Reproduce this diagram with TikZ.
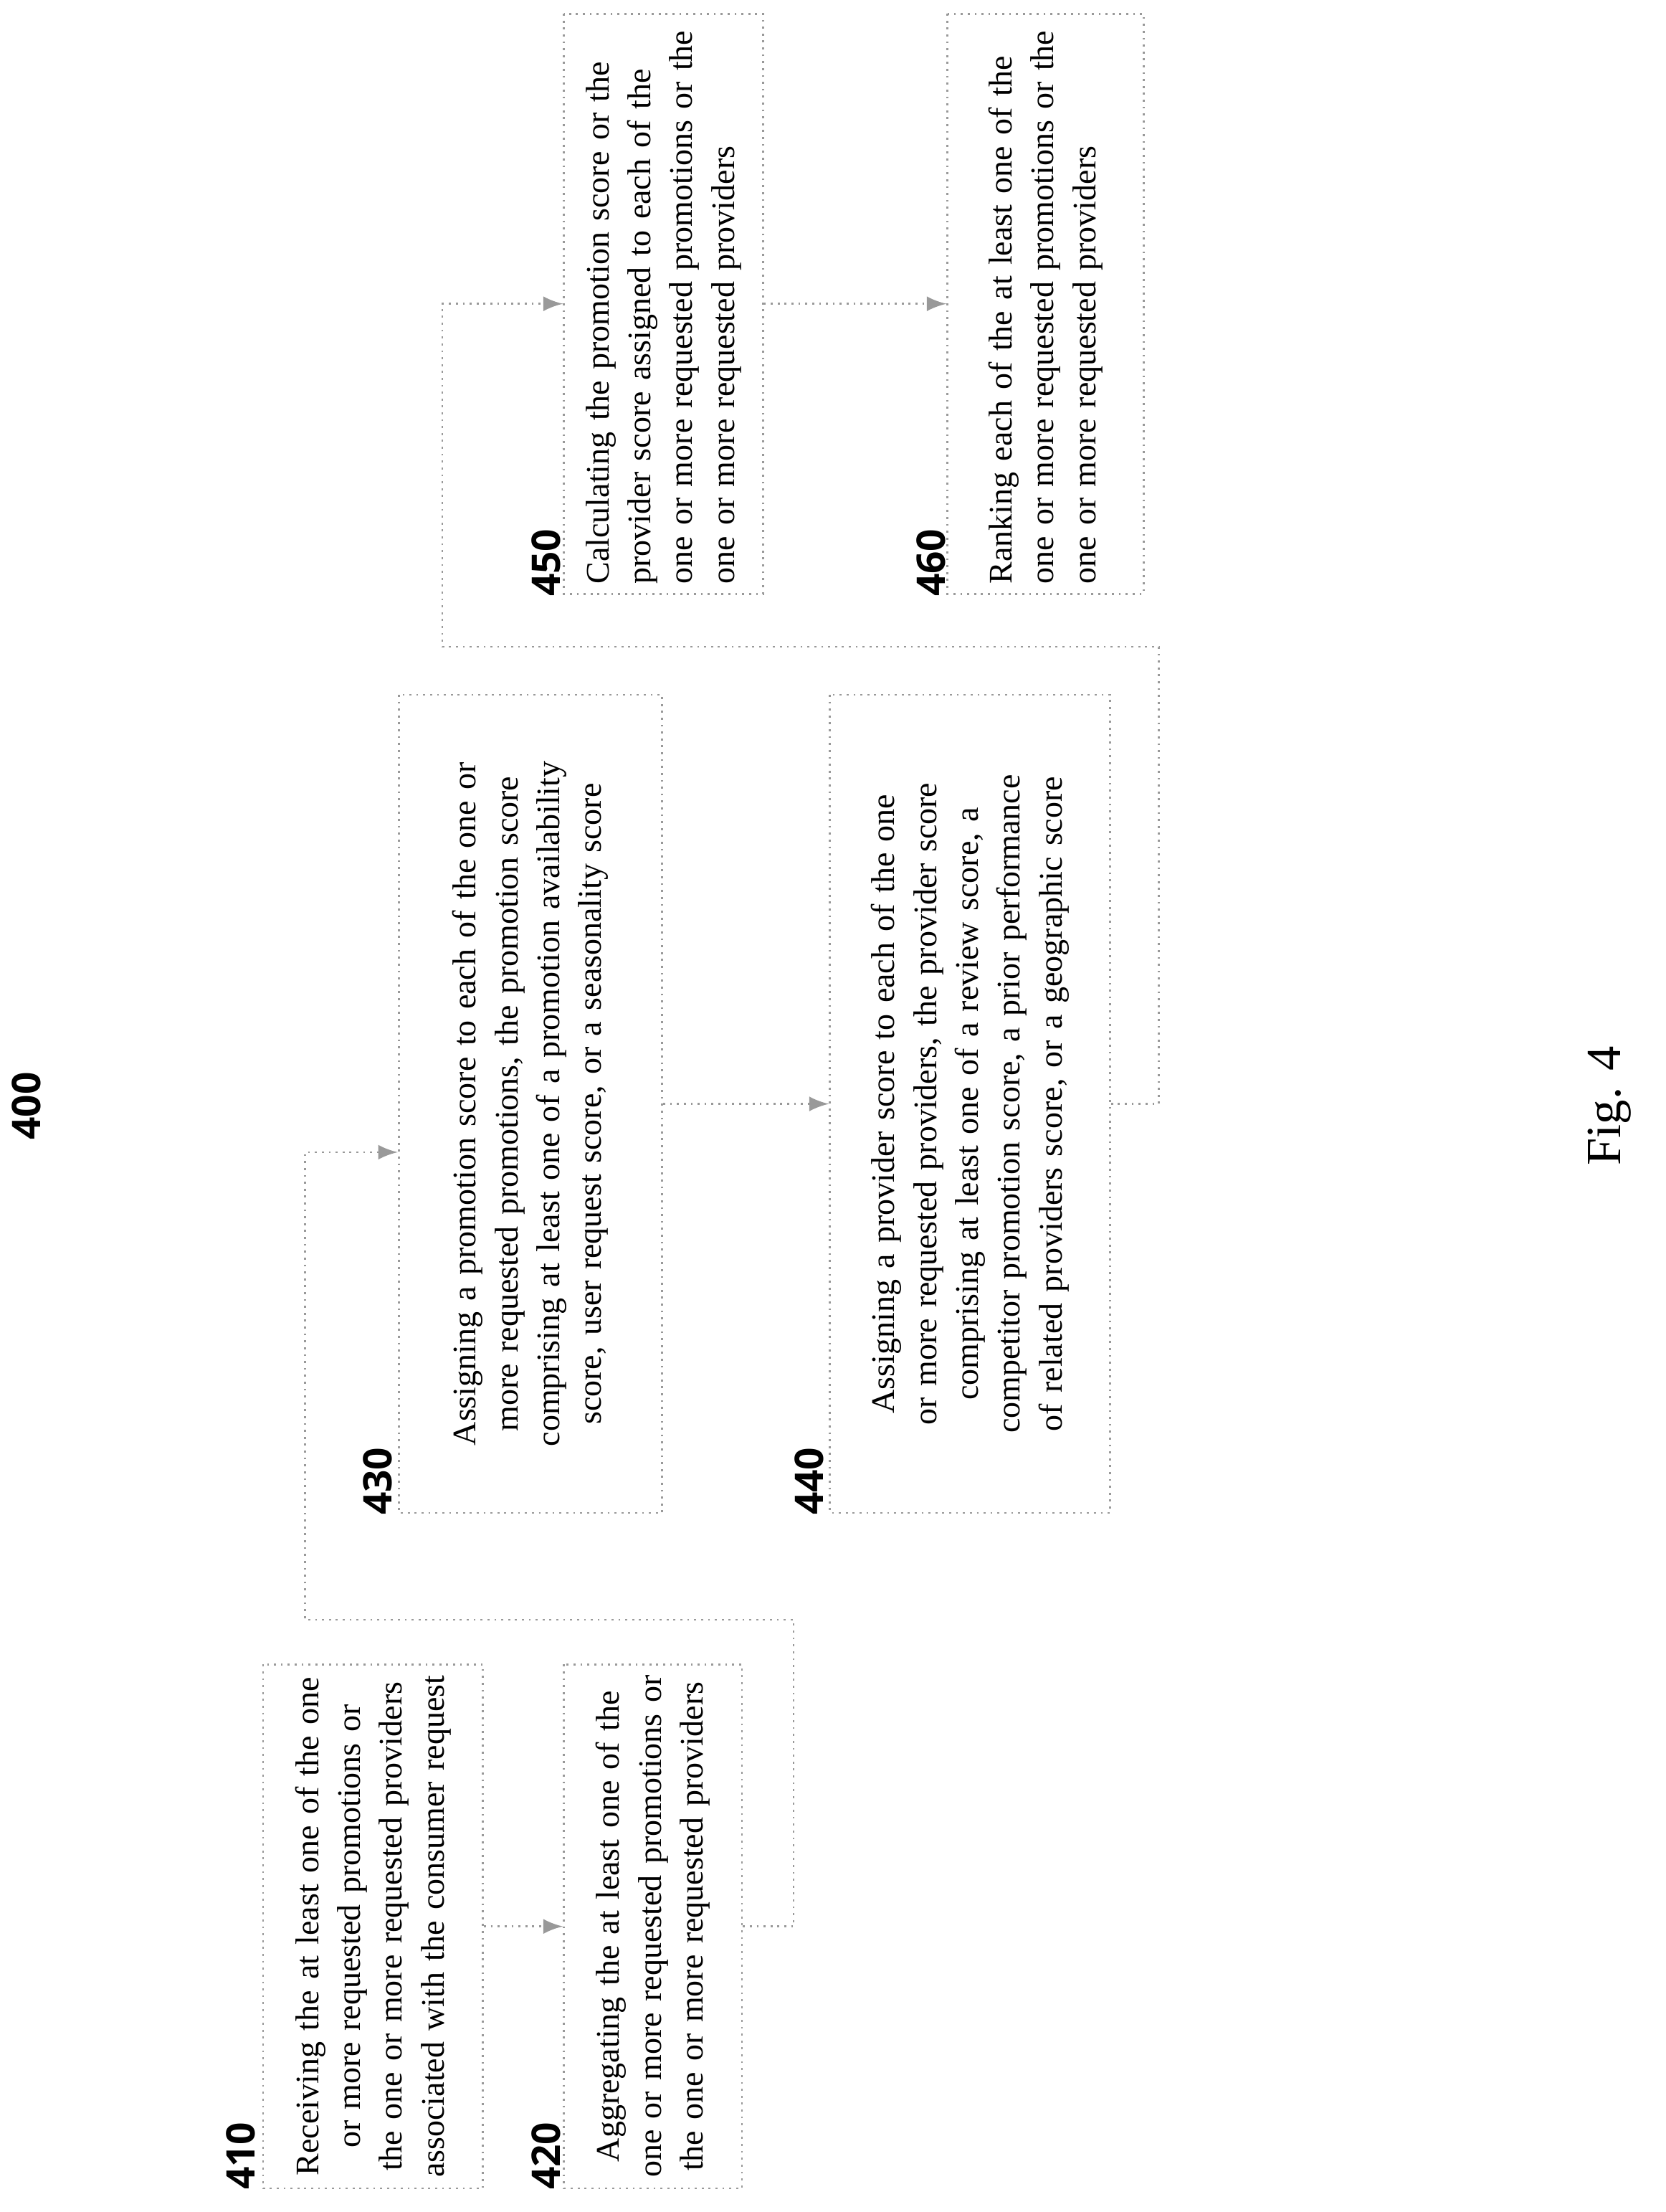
\documentclass[tikz,border=0pt]{standalone}
\usepackage{fontspec}
\setmainfont{Liberation Serif}
\newfontfamily\numfont{Open Sans}
\hyphenpenalty=10000
\exhyphenpenalty=10000
\begin{document}
\begin{tikzpicture}[x=0.01cm,y=-0.01cm,
    stepbox/.style={draw=gray!80,densely dotted,rotate=90,inner sep=2pt,font=\fontsize{6.7}{8.5}\selectfont},
    numlabel/.style={rotate=90,font=\numfont\bfseries\fontsize{8}{9}\selectfont},
    flow/.style={draw=gray!80,densely dotted,-latex}]
    \useasboundingbox (0,0) rectangle (1190,1580);
    % Kopf
    \node[numlabel] (fignum) at (19,790) {400};
    \node[rotate=90,font=\fontsize{10}{12}\selectfont] (figcap) at (1150,790) {Fig. 4};

    % Schritte
    \node[stepbox,minimum width=3.68cm,minimum height=1.57cm,text width=3.6cm,align=center] (s410) at (266.5,1376) {Receiving the at least one of the one or more requested promotions or the one or more requested providers associated with the consumer request};
    \node[stepbox,minimum width=3.68cm,minimum height=1.27cm,text width=3.6cm,align=center] (s420) at (466.5,1376) {Aggregating the at least one of the one or more requested promotions or the one or more requested providers};
    \node[stepbox,minimum width=5.83cm,minimum height=1.88cm,text width=5.7cm,align=center] (s430) at (379,788.5) {Assigning a promotion score to each of the one or more requested promotions, the promotion score comprising at least one of a promotion availability score, user request score, or a seasonality score};
    \node[stepbox,minimum width=5.83cm,minimum height=2.0cm,text width=5.7cm,align=center] (s440) at (693,788.5) {Assigning a provider score to each of the one or more requested providers, the provider score comprising at least one of a review score, a competitor promotion score, a prior performance of related providers score, or a geographic score};
    \node[stepbox,minimum width=4.1cm,minimum height=1.42cm,text width=4.0cm,align=left] (s450) at (474,217) {Calculating the promotion score or the provider score assigned to each of the one or more requested promotions or the one or more requested providers};
    \node[stepbox,minimum width=4.1cm,minimum height=1.40cm,text width=4.0cm,align=left] (s460) at (747,217) {Ranking each of the at least one of the one or more requested promotions or the one or more requested providers};

    % Nummern
    \node[numlabel] (n410) at (172,1540) {410};
    \node[numlabel] (n420) at (390,1540) {420};
    \node[numlabel] (n430) at (270,1058) {430};
    \node[numlabel] (n440) at (578,1058) {440};
    \node[numlabel] (n450) at (390,402) {450};
    \node[numlabel] (n460) at (665,402) {460};

    % Verbindungen
    \draw[flow] (s410.south) -- (s420.north);
    \draw[flow] (s420.south) -- (567,1376) -- (567,1157) -- (218,1157) -- (218,823) -- (s430.north |- 0,823);
    \draw[flow] (s430.south) -- (s440.north);
    \draw[flow] (s440.south) -- (828,788.5) -- (828,462) -- (316,462) -- (316,217) -- (s450.north);
    \draw[flow] (s450.south) -- (s460.north);
\end{tikzpicture}
\end{document}
